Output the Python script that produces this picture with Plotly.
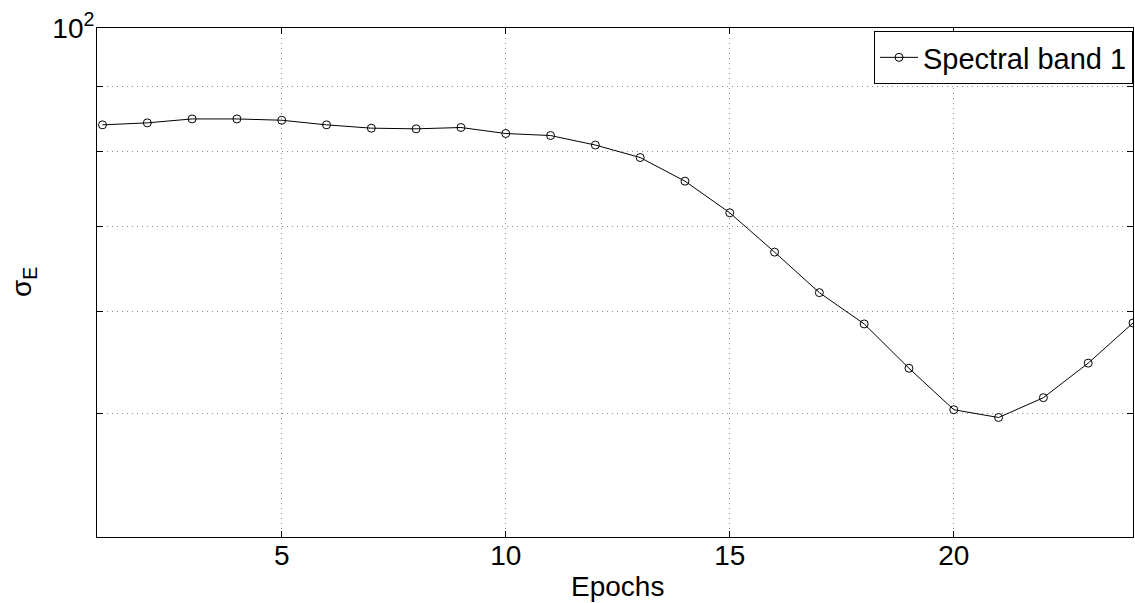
import plotly.graph_objects as go

epochs = list(range(1, 25))
sigma_e = [84.0, 84.3, 84.9, 84.9, 84.7, 84.0, 83.5, 83.4, 83.6, 82.7, 82.4, 81.0,
           79.2, 75.9, 71.7, 66.8, 62.1, 58.7, 54.2, 50.3, 49.6, 51.4, 54.7, 58.8]
series_name = "Spectral band 1"
x_ticks = [5, 10, 15, 20]
y_grid = [40, 50, 60, 70, 80, 90, 100]
y_ticktext = ["", "", "", "", "", "", "10<sup>2</sup>"]

FONT = "Liberation Sans, Arial, sans-serif"
FS = 28

fig = go.Figure()
fig.add_trace(go.Scatter(
    x=epochs, y=sigma_e, mode="lines+markers", name=series_name,
    line=dict(color="black", width=1),
    marker=dict(symbol="circle-open", size=8, color="black", line=dict(width=1, color="black")),
))

fig.update_layout(
    width=1135, height=603,
    margin=dict(l=97, r=2, t=28, b=66, autoexpand=False),
    paper_bgcolor="white", plot_bgcolor="white",
    font=dict(family=FONT, size=FS, color="black"),
    showlegend=True,
    legend=dict(x=1, xanchor="right", y=1 - 3 / 509, yanchor="top",
                bgcolor="white", bordercolor="black", borderwidth=1,
                font=dict(size=29, family=FONT), itemwidth=38),
    annotations=[
        dict(text="Epochs", xref="paper", yref="paper", x=(617 - 97) / 1036, y=0,
             xanchor="center", yanchor="middle", yshift=-49, showarrow=False,
             font=dict(size=FS, family=FONT)),
        dict(text="σ<sub>E</sub>", xref="paper", yref="paper", x=0, y=(537 - 282) / 509,
             xanchor="center", yanchor="middle", xshift=-74, textangle=-90, showarrow=False,
             font=dict(size=FS, family=FONT)),
    ],
)

GRID = dict(showgrid=True, gridcolor="#8c8c8c", griddash="1px,4px", gridwidth=1)

fig.update_xaxes(
    range=[0.877, 24.0], tickvals=x_ticks, automargin=False,
    showline=True, linecolor="black", linewidth=1, mirror="ticks",
    ticks="inside", ticklen=6, tickcolor="black",
    zeroline=False, ticklabelstandoff=-7,
    tickfont=dict(size=FS, family=FONT), **GRID,
)
fig.update_yaxes(
    type="log", range=[1.60206, 2.0], automargin=False,
    tickvals=y_grid, ticktext=y_ticktext,
    showline=True, linecolor="black", linewidth=1, mirror="ticks",
    ticks="inside", ticklen=6, tickcolor="black",
    zeroline=False, ticklabelstandoff=-4,
    tickfont=dict(size=FS, family=FONT), **GRID,
)

fig.write_html("out.html", config={"displayModeBar": False},
               post_script="document.body.style.margin='0';document.body.style.overflow='hidden';")
